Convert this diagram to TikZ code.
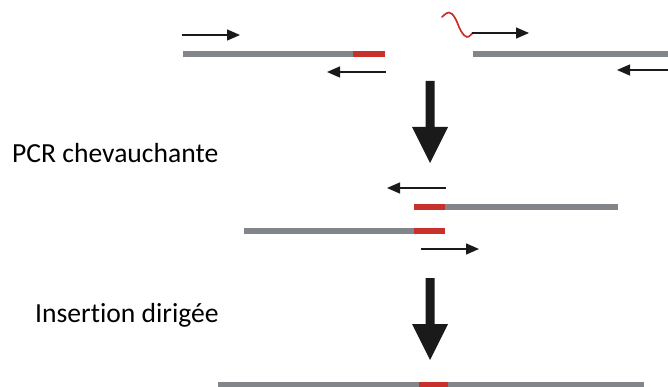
\documentclass[tikz,border=0pt]{standalone}
\usepackage{fontspec}
\setmainfont{Carlito}[Ligatures=NoCommon]
\usetikzlibrary{arrows.meta}
\definecolor{bargrey}{HTML}{82868A}
\definecolor{barred}{HTML}{C8302C}
\definecolor{arrowdark}{HTML}{1A1A1A}
\tikzset{
  greybar/.style={draw=bargrey, line width=6pt, line cap=butt},
  redbar/.style={draw=barred, line width=6pt, line cap=butt},
  primer/.style={draw=arrowdark, line width=1.4pt, -{Triangle[length=13pt,width=11pt]}},
  bigarrow/.style={fill=arrowdark, draw=none},
  steplabel/.style={anchor=base west, inner sep=0pt, font=\fontsize{27.6}{32}\selectfont, text=black}
}
\begin{document}
\begin{tikzpicture}[x=1pt,y=-1pt]
\useasboundingbox (0,0) rectangle (668,387);
% --- top left fragment
\coordinate (tlA) at (183,54.5);
\coordinate (tlB) at (353,54.5);
\coordinate (tlC) at (385,54.5);
\draw[greybar] (tlA) -- (tlB);
\draw[redbar] (tlB) -- (tlC);
\coordinate (p1s) at (182,35);
\coordinate (p1e) at (240,35);
\draw[primer] (p1s) -- (p1e);
\coordinate (p2s) at (386,72);
\coordinate (p2e) at (327,72);
\draw[primer] (p2s) -- (p2e);
% --- top right fragment
\coordinate (trA) at (473,54.5);
\coordinate (trB) at (668,54.5);
\draw[greybar] (trA) -- (trB);
\coordinate (p3s) at (472,33);
\coordinate (p3e) at (529,33);
\draw[barred, line width=1.7pt, line cap=round] plot[smooth, tension=0.7] coordinates {(442,17) (449,12.5) (455,18) (461,31) (467,37) (472.5,33)};
\draw[primer] (p3s) -- (p3e);
\coordinate (p4s) at (668,70);
\coordinate (p4e) at (617,70);
\draw[primer] (p4s) -- (p4e);
% --- big arrow 1
\fill[bigarrow] (425.5,81) -- (434.5,81) -- (434.5,127) -- (448,127) -- (430,163) -- (412,127) -- (425.5,127) -- cycle;
% --- label 1
\node[steplabel] (lab1) at (12,163) {PCR chevauchante};
% --- middle
\coordinate (p5s) at (446,188);
\coordinate (p5e) at (387,188);
\draw[primer] (p5s) -- (p5e);
\coordinate (mA) at (414,207);
\coordinate (mB) at (445,207);
\coordinate (mC) at (618,207);
\draw[redbar] (mA) -- (mB);
\draw[greybar] (mB) -- (mC);
\coordinate (nA) at (244,231);
\coordinate (nB) at (414,231);
\coordinate (nC) at (445,231);
\draw[greybar] (nA) -- (nB);
\draw[redbar] (nB) -- (nC);
\coordinate (p6s) at (421,249);
\coordinate (p6e) at (479,249);
\draw[primer] (p6s) -- (p6e);
% --- big arrow 2
\fill[bigarrow] (425.5,278) -- (434.5,278) -- (434.5,324) -- (448,324) -- (430,360) -- (412,324) -- (425.5,324) -- cycle;
% --- label 2
\node[steplabel] (lab2) at (35,322) {Insertion dirigée};
% --- bottom
\coordinate (fA) at (218,385);
\coordinate (fB) at (419,385);
\coordinate (fC) at (448,385);
\coordinate (fD) at (644,385);
\draw[greybar] (fA) -- (fB);
\draw[redbar] (fB) -- (fC);
\draw[greybar] (fC) -- (fD);
\end{tikzpicture}
\end{document}
